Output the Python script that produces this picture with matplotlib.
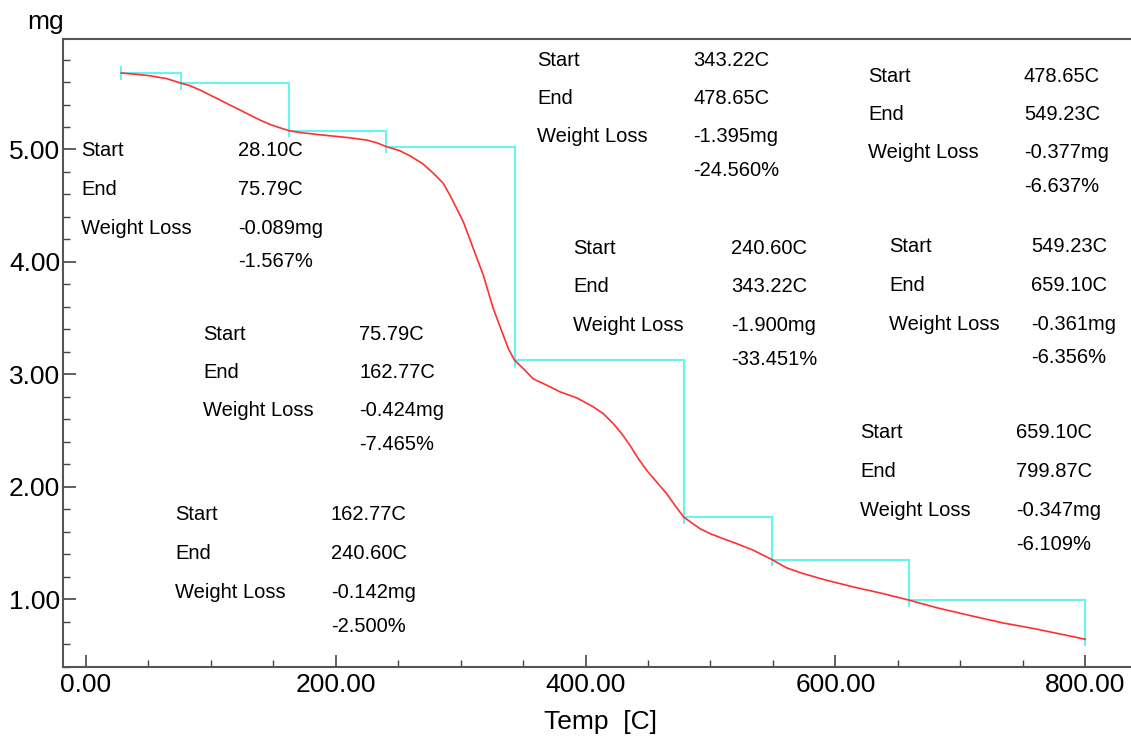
import numpy as np
import matplotlib.pyplot as plt
from matplotlib.ticker import MultipleLocator, FormatStrFormatter

plt.rcParams['font.family'] = ['Liberation Sans', 'DejaVu Sans']

# TGA curve (temperature in C, mass in mg)
temp = [28.1, 38, 51, 64.6, 75.79, 83.3, 91.3, 99.3, 107.3, 115.3, 123.3, 131.3,
        139.3, 147.3, 155.3, 162.77, 171.3, 184.7, 198, 211.4, 224.7, 232.8,
        240.6, 251, 260, 270, 278, 286, 291.4, 296.8, 302.1, 306.1, 310.1,
        314.1, 318.1, 322.1, 326.1, 330.1, 334.1, 338.1, 343.22, 350.1, 358.1,
        368.9, 379.5, 392.9, 406.2, 414.2, 422.2, 428.9, 435.5, 442.2, 448.9,
        456.9, 464.9, 471.5, 478.65, 486.2, 491.6, 499.6, 510.2, 521, 534.3,
        549.23, 561, 574.3, 593, 614.3, 638.3, 659.1, 681.1, 708, 734, 761,
        799.87]
mass = [5.680, 5.671, 5.656, 5.630, 5.591, 5.567, 5.529, 5.484, 5.440, 5.395,
        5.351, 5.306, 5.262, 5.223, 5.193, 5.167, 5.151, 5.134, 5.119, 5.104,
        5.084, 5.060, 5.025, 4.990, 4.940, 4.870, 4.790, 4.700, 4.594, 4.475,
        4.357, 4.239, 4.119, 4.001, 3.883, 3.734, 3.586, 3.467, 3.349, 3.230,
        3.125, 3.052, 2.960, 2.904, 2.845, 2.791, 2.711, 2.651, 2.562, 2.473,
        2.370, 2.251, 2.147, 2.043, 1.939, 1.836, 1.730, 1.670, 1.628, 1.584,
        1.539, 1.495, 1.436, 1.353, 1.279, 1.228, 1.169, 1.110, 1.050, 0.992,
        0.925, 0.855, 0.790, 0.735, 0.645]

# weight-loss steps
start_mass = 5.68
step_start = [28.10, 75.79, 162.77, 240.60, 343.22, 478.65, 549.23, 659.10]
step_end = [75.79, 162.77, 240.60, 343.22, 478.65, 549.23, 659.10, 799.87]
loss_mg = [-0.089, -0.424, -0.142, -1.900, -1.395, -0.377, -0.361, -0.347]
loss_pct = [-1.567, -7.465, -2.500, -33.451, -24.560, -6.637, -6.356, -6.109]

# where each text block sits (pixels: label column x, value column x, first row y)
block_pos = [(81, 238, 151), (203, 359, 334), (175, 331, 515), (573, 731, 248),
             (537, 693, 60), (868, 1024, 76), (889, 1031, 247), (860, 1016, 433)]
row_off = [0, 38.5, 77, 111]

W, H = 1131, 740
fig = plt.figure(figsize=(W / 100, H / 100), dpi=100)
ax = fig.add_axes([63 / W, (H - 667.3) / H, 1 - 63 / W, (667.3 - 39.3) / H])

ax.plot(temp, mass, color='#ff3030', lw=1.2, zorder=3)

# cyan steps
cyan = '#66f4f4'
levels = [start_mass] + list(start_mass + np.cumsum(loss_mg))
ax.plot([step_start[0]] * 2, [levels[0] + 0.05, levels[0] - 0.05], color=cyan, lw=1.5, zorder=2)
for i in range(len(step_start)):
    ax.plot([step_start[i], step_end[i]], [levels[i], levels[i]], color=cyan, lw=1.5, zorder=2)
    ax.plot([step_end[i], step_end[i]], [levels[i], levels[i + 1] - 0.05], color=cyan, lw=1.5, zorder=2)

ax.set_xlim(-18.4, 836.7)
ax.set_ylim(0.395, 5.98)
ax.xaxis.set_major_locator(MultipleLocator(200))
ax.xaxis.set_minor_locator(MultipleLocator(50))
ax.yaxis.set_major_locator(MultipleLocator(1))
ax.yaxis.set_minor_locator(MultipleLocator(0.2))
ax.xaxis.set_major_formatter(FormatStrFormatter('%.2f'))
ax.yaxis.set_major_formatter(FormatStrFormatter('%.2f'))
ax.set_yticks([1, 2, 3, 4, 5])
ax.tick_params(which='both', direction='in', colors='#444444', labelcolor='black', labelsize=19)
ax.tick_params(which='major', length=9, width=1.2)
ax.tick_params(which='minor', length=5, width=1)
ax.tick_params(axis='y', pad=2)
ax.tick_params(axis='x', pad=4)
for s in ['left', 'bottom', 'top']:
    ax.spines[s].set_color('#555555')
    ax.spines[s].set_linewidth(1.5)
ax.spines['right'].set_visible(False)

fig.text(46 / W, 1 - 22 / H, 'mg', fontsize=19, ha='center', va='center')
fig.text(601 / W, 1 - 722 / H, 'Temp  [C]', fontsize=19, ha='center', va='center')

for i, (lx, vx, y0) in enumerate(block_pos):
    labels = ['Start', 'End', 'Weight Loss', '']
    values = ['%.2fC' % step_start[i], '%.2fC' % step_end[i],
              '%.3fmg' % loss_mg[i], '%.3f%%' % loss_pct[i]]
    for k in range(4):
        y = 1 - (y0 + row_off[k]) / H
        if labels[k]:
            fig.text(lx / W, y, labels[k], fontsize=14.5, ha='left', va='center')
        fig.text(vx / W, y, values[k], fontsize=14.5, ha='left', va='center')

fig.savefig('out.png', dpi=100)
